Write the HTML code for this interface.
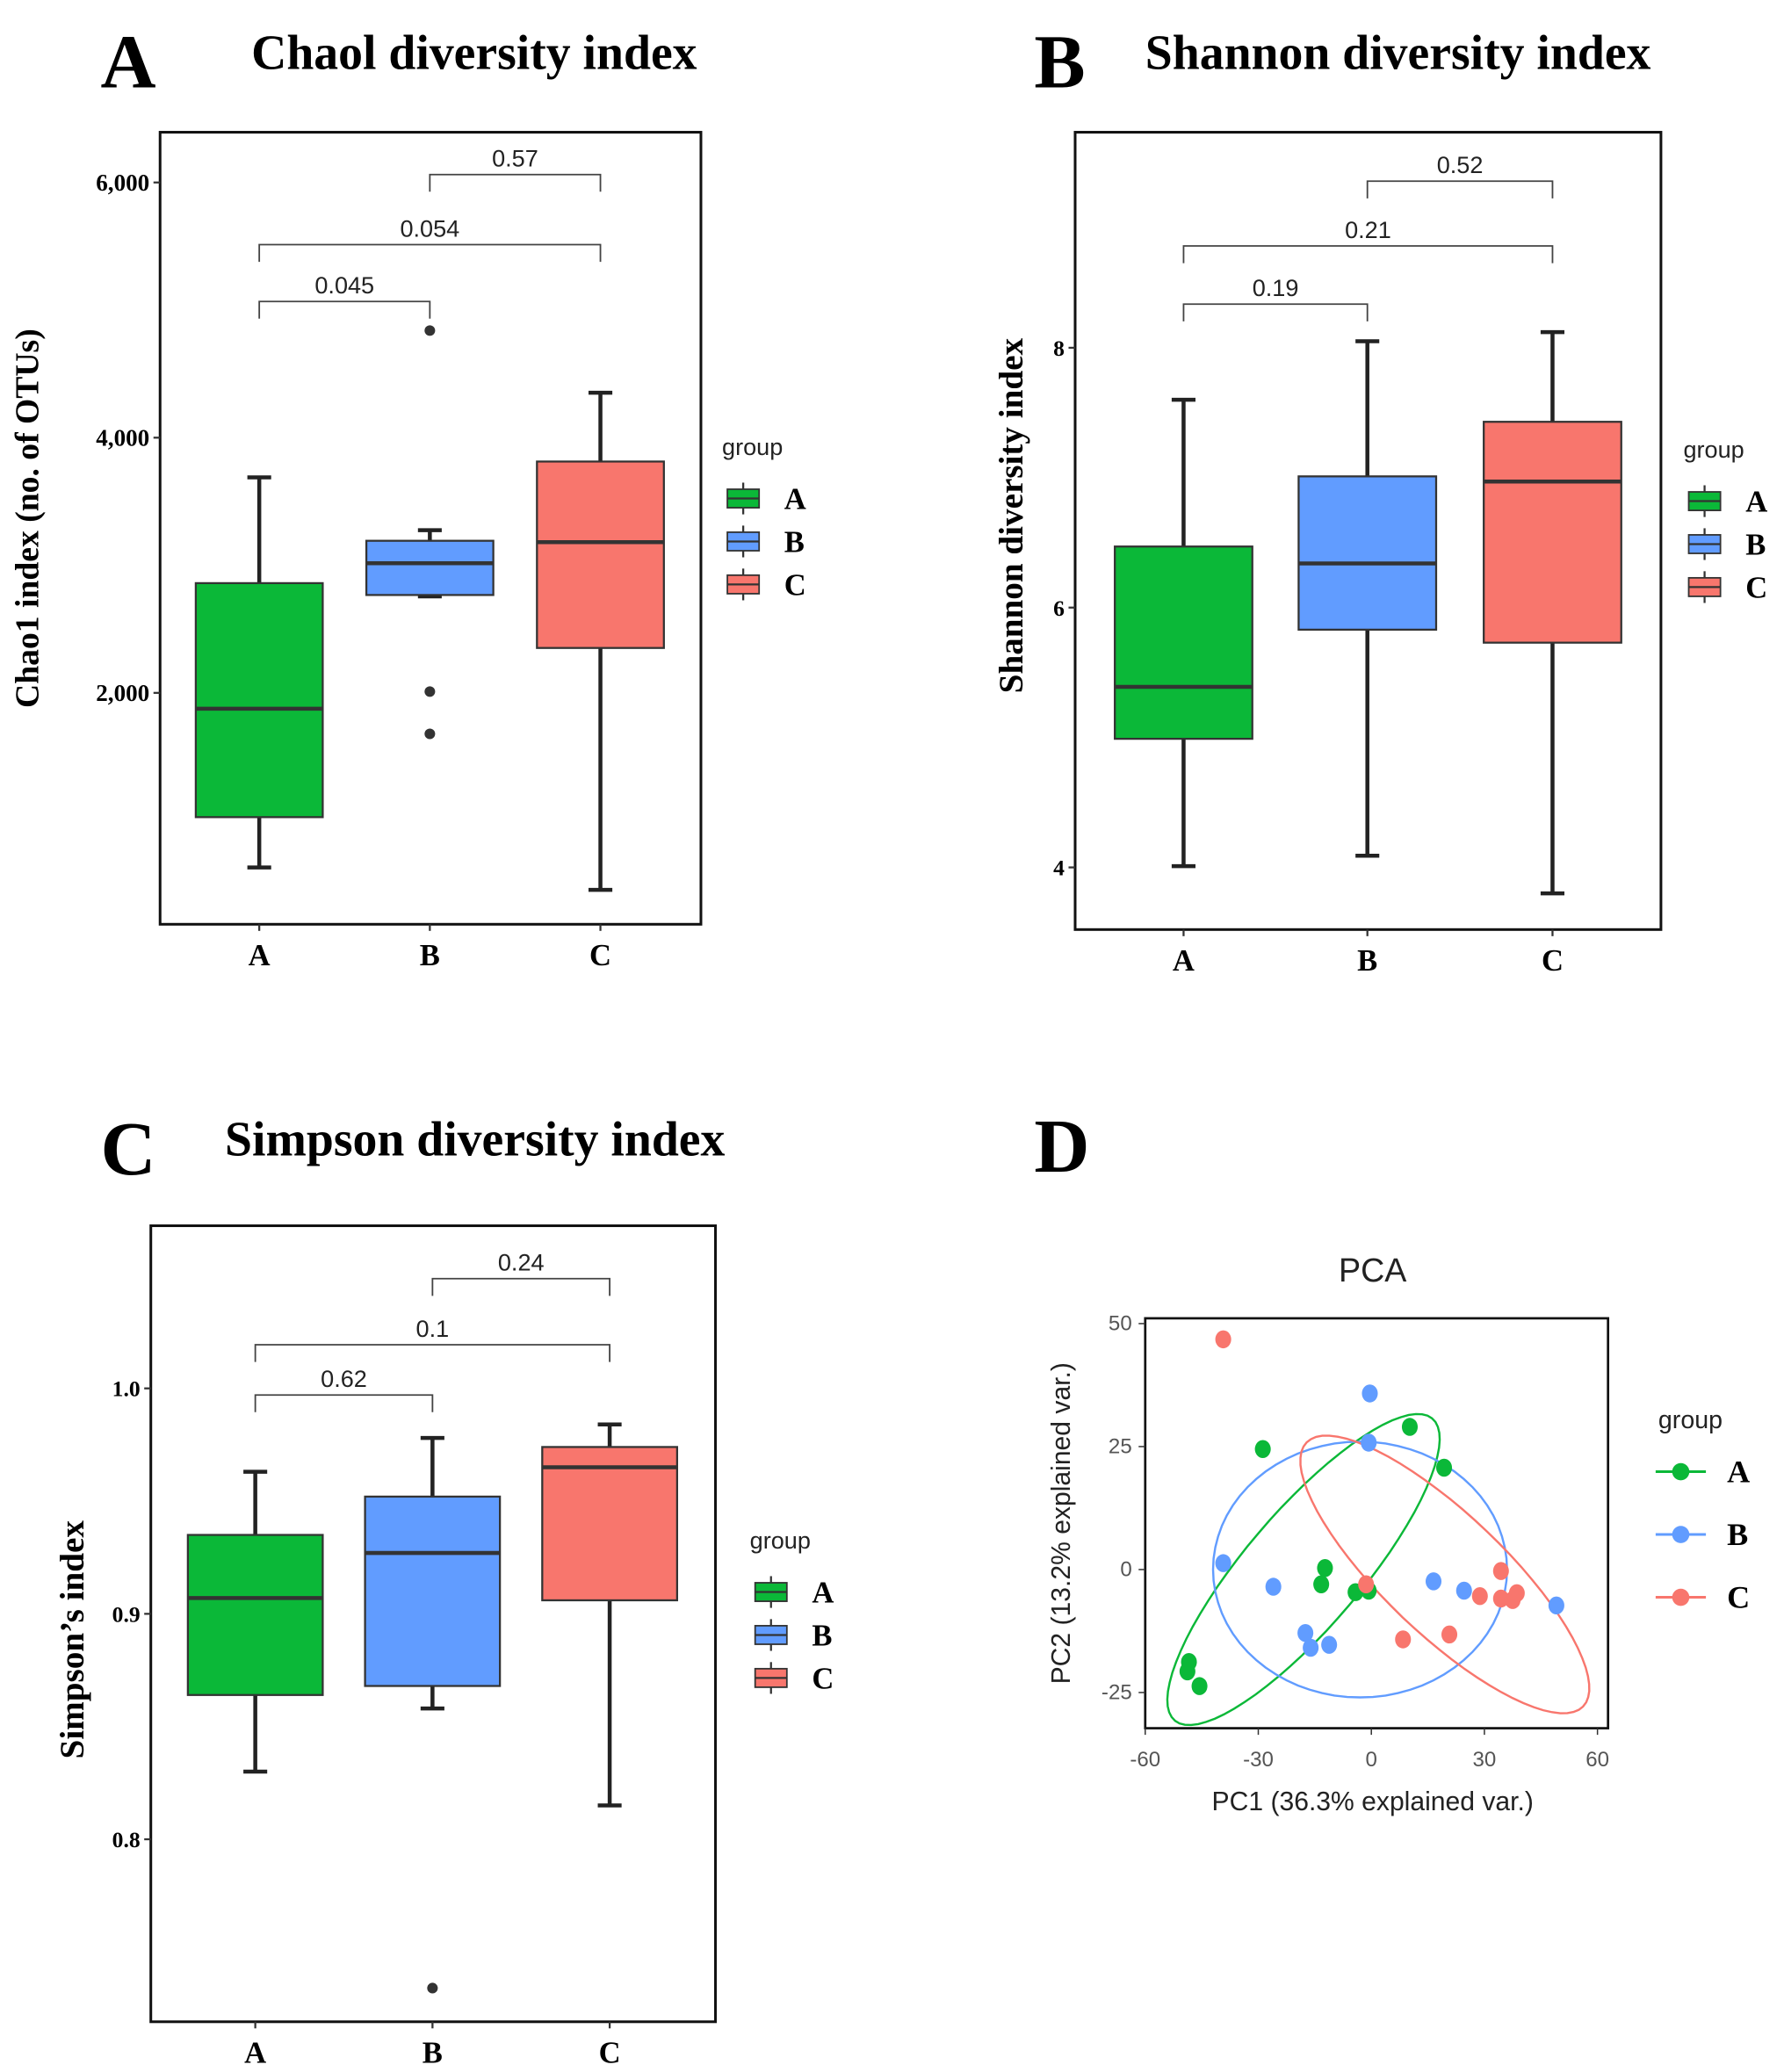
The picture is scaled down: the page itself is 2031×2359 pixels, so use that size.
<!DOCTYPE html>
<html><head><meta charset="utf-8">
<style>
html,body{margin:0;padding:0;background:#fff;}
svg{display:block;}
.ser{font-family:"Liberation Serif",serif;font-weight:bold;fill:#000;}
.sans{font-family:"Liberation Sans",sans-serif;}
</style></head>
<body>
<svg id="fig" width="2031" height="2359" viewBox="0 0 1349 1567" xmlns="http://www.w3.org/2000/svg"></svg>
<script>
// ---------- DATA ----------
const groups = ["A","B","C"];
const colors = ["#0BB838","#619CFF","#F8766D"];
// Panel A: Chao1 [low, q1, median, q3, high]
const chaoA = [632,1026,1876,2860,3689];
const chaoB = [2756,2767,3016,3192,3275];
const chaoC = [456,2352,3181,3813,4352];
const chaoOutliersB = [4839,2010,1679];
const chaoTicks = [2000,4000,6000];
const chaoTickLabels = ["2,000","4,000","6,000"];
const chaoP = ["0.045","0.054","0.57"];
// Panel B: Shannon
const shanA = [4.01,4.99,5.39,6.47,7.60];
const shanB = [4.09,5.83,6.34,7.01,8.05];
const shanC = [3.80,5.73,6.97,7.43,8.12];
const shanTicks = [4,6,8];
const shanTickLabels = ["4","6","8"];
const shanP = ["0.19","0.21","0.52"];
// Panel C: Simpson
const simpA = [0.830,0.864,0.907,0.935,0.963];
const simpB = [0.858,0.868,0.927,0.952,0.978];
const simpC = [0.815,0.906,0.965,0.974,0.984];
const simpOutliersB = [0.734];
const simpTicks = [0.8,0.9,1.0];
const simpTickLabels = ["0.8","0.9","1.0"];
const simpP = ["0.62","0.1","0.24"];
// Panel D: PCA
const pcaAx = [-28.8,10.2,19.3,-12.3,-13.3,-4.2,-0.7,-48.4,-48.8,-45.6];
const pcaAy = [24.5,29.0,20.7,0.3,-3.0,-4.6,-4.3,-18.8,-20.7,-23.7];
const pcaBx = [-0.4,-0.7,-39.3,-26.0,-17.5,-16.1,-11.2,16.5,24.6,49.1];
const pcaBy = [35.8,25.8,1.3,-3.5,-12.9,-15.9,-15.3,-2.4,-4.3,-7.3];
const pcaCx = [-39.3,-1.4,8.4,20.7,34.4,28.8,34.4,37.5,38.6];
const pcaCy = [46.8,-3.0,-14.2,-13.2,-0.3,-5.4,-5.9,-6.2,-4.8];
const pcaTicksX = [-60,-30,0,30,60];
const pcaTicksY = [-25,0,25,50];

// ---------- helpers ----------
const NS="http://www.w3.org/2000/svg";
const svg=document.getElementById('fig');
function el(tag,attrs,parent,text){const e=document.createElementNS(NS,tag);for(const k in attrs)e.setAttribute(k,attrs[k]);if(text!==undefined)e.textContent=text;(parent||svg).appendChild(e);return e;}
function lin(d0,d1,r0,r1){return v=>r0+(v-d0)*(r1-r0)/(d1-d0);}

function boxPanel(cfg){
  const g=el('g',{});
  
  
  const y=lin(cfg.d0,cfg.d1,cfg.r0,cfg.r1);
  const xs=[cfg.cx[0],cfg.cx[1],cfg.cx[2]];
  const L=el('text',{x:cfg.letterX,y:cfg.titleY+14,class:'ser','font-size':58},g,cfg.letter);
  
  const T=el('text',{x:cfg.titleX,y:cfg.titleY,class:'ser','font-size':37},g,cfg.title);
  
  const F=el('rect',{x:cfg.fx0,y:cfg.fy0,width:cfg.fx1-cfg.fx0,height:cfg.fy1-cfg.fy0,fill:'#fff',stroke:'#111','stroke-width':2},g);
  
  cfg.ticks.forEach((t,i)=>{
    const yy=y(t);
    el('line',{x1:cfg.fx0-5,x2:cfg.fx0,y1:yy,y2:yy,stroke:'#333','stroke-width':1.5},g);
    const tl=el('text',{x:cfg.fx0-8,y:yy+6,class:'ser','font-size':cfg.tickSize,'text-anchor':'end',fill:'#333'},g,cfg.tickLabels[i]);
    
  });
  const yl=el('text',{x:0,y:0,class:'ser','font-size':cfg.ylSize,'text-anchor':'middle',transform:`translate(${cfg.ylX},${cfg.ylY}) rotate(-90)`},g,cfg.ylabel);
  
  cfg.data.forEach((d,i)=>{
    const x=xs[i],hw=cfg.bw/2;
    const bg=el('g',{},g);
    
    
    el('line',{x1:x,x2:x,y1:y(d[0]),y2:y(d[1]),stroke:'#222','stroke-width':3},bg);
    el('line',{x1:x,x2:x,y1:y(d[3]),y2:y(d[4]),stroke:'#222','stroke-width':3},bg);
    el('line',{x1:x-9,x2:x+9,y1:y(d[0]),y2:y(d[0]),stroke:'#222','stroke-width':3},bg);
    el('line',{x1:x-9,x2:x+9,y1:y(d[4]),y2:y(d[4]),stroke:'#222','stroke-width':3},bg);
    el('rect',{x:x-hw,y:y(d[3]),width:cfg.bw,height:y(d[1])-y(d[3]),fill:colors[i],stroke:'#333','stroke-width':1.5},bg);
    el('line',{x1:x-hw,x2:x+hw,y1:y(d[2]),y2:y(d[2]),stroke:'#333','stroke-width':3},bg);
    el('line',{x1:x,x2:x,y1:cfg.fy1,y2:cfg.fy1+5,stroke:'#333','stroke-width':1.5},g);
    const xl=el('text',{x:x,y:cfg.fy1+31,class:'ser','font-size':23,'text-anchor':'middle'},g,groups[i]);
    
  });
  (cfg.outliers||[]).forEach(v=>{
    const o=el('circle',{cx:xs[1],cy:y(v),r:4,fill:'#333'},g);
    
  });
  const pairs=[[0,1],[0,2],[1,2]];
  pairs.forEach((p,i)=>{
    const by=cfg.brY[i];
    const b=el('path',{d:`M${xs[p[0]]},${by+13}V${by}H${xs[p[1]]}V${by+13}`,fill:'none',stroke:'#444','stroke-width':1.2},g);
    
    const pt=el('text',{x:(xs[p[0]]+xs[p[1]])/2,y:by-6,class:'sans','font-size':18,'text-anchor':'middle',fill:'#222'},g,cfg.pvals[i]);
    
  });
  const lg=el('g',{},g);
  
  el('text',{x:cfg.lgX-4,y:cfg.lgY,class:'sans','font-size':18,fill:'#222'},lg,'group');
  groups.forEach((gname,i)=>{
    const ky=cfg.lgY+33+i*32.5;
    const kk=el('g',{},lg);
    
    el('line',{x1:cfg.lgX+12,x2:cfg.lgX+12,y1:ky-12,y2:ky+12,stroke:'#333','stroke-width':1.5},kk);
    el('rect',{x:cfg.lgX,y:ky-7,width:24,height:14,fill:colors[i],stroke:'#333','stroke-width':1.2},kk);
    el('line',{x1:cfg.lgX,x2:cfg.lgX+24,y1:ky,y2:ky,stroke:'#333','stroke-width':1.5},kk);
    el('text',{x:cfg.lgX+43,y:ky+8,class:'ser','font-size':23},kk,gname);
  });
}

boxPanel({name:'chao1-panel',letter:'A',letterX:76,title:'Chaol diversity index',titleX:190,titleY:52,
  fx0:121,fx1:530,fy0:100,fy1:699,d0:2000,d1:6000,r0:524,r1:138,cx:[196,325,454],bw:96,
  ticks:chaoTicks,tickLabels:chaoTickLabels,tickSize:18,ylabel:'Chao1 index (no. of OTUs)',ylX:29,ylY:392,ylSize:25,
  data:[chaoA,chaoB,chaoC],outliers:chaoOutliersB,brY:[228,185,132],pvals:chaoP,lgX:550,lgY:344});

boxPanel({name:'shannon-panel',letter:'B',letterX:782,title:'Shannon diversity index',titleX:866,titleY:52,
  fx0:813,fx1:1256,fy0:100,fy1:703,d0:4,d1:8,r0:656,r1:263,cx:[895,1034,1174],bw:104,
  ticks:shanTicks,tickLabels:shanTickLabels,tickSize:17,ylabel:'Shannon diversity index',ylX:773,ylY:390,ylSize:26,
  data:[shanA,shanB,shanC],outliers:[],brY:[230,186,137],pvals:shanP,lgX:1277,lgY:346});

boxPanel({name:'simpson-panel',letter:'C',letterX:76,title:'Simpson diversity index',titleX:170,titleY:874,
  fx0:114,fx1:541,fy0:927,fy1:1529,d0:0.8,d1:1.0,r0:1391,r1:1050,cx:[193,327,461],bw:102,
  ticks:simpTicks,tickLabels:simpTickLabels,tickSize:17,ylabel:'Simpson\u2019s index',ylX:63,ylY:1240,ylSize:26,
  data:[simpA,simpB,simpC],outliers:simpOutliersB,brY:[1055,1017,967],pvals:simpP,lgX:571,lgY:1171});

// ---------- PCA ----------
(function(){
  const g=el('g',{});
  
  const x=lin(-60,60,866,1208), y=lin(-25,50,1280,1001);
  const L=el('text',{x:782,y:886,class:'ser','font-size':58},g,'D');
  
  const T=el('text',{x:1038,y:969,class:'sans','font-size':25,'text-anchor':'middle',fill:'#222'},g,'PCA');
  
  const F=el('rect',{x:866,y:997,width:350,height:310,fill:'#fff',stroke:'#111','stroke-width':1.8},g);
  
  pcaTicksX.forEach(t=>{
    el('line',{x1:x(t),x2:x(t),y1:1307,y2:1312,stroke:'#333'},g);
    const tl=el('text',{x:x(t),y:1336,class:'sans','font-size':16,'text-anchor':'middle',fill:'#555'},g,String(t));
    
  });
  pcaTicksY.forEach(t=>{
    el('line',{x1:861,x2:866,y1:y(t),y2:y(t),stroke:'#333'},g);
    const tl=el('text',{x:856,y:y(t)+5,class:'sans','font-size':16,'text-anchor':'end',fill:'#555'},g,String(t));
    
  });
  const xt=el('text',{x:1038,y:1369,class:'sans','font-size':20,'text-anchor':'middle',fill:'#222'},g,'PC1 (36.3% explained var.)');
  
  const yt=el('text',{x:0,y:0,class:'sans','font-size':20,'text-anchor':'middle',fill:'#222',transform:'translate(809,1152) rotate(-90)'},g,'PC2 (13.2% explained var.)');
  
  const ells=[[-18,0,35,30,-9,10],[-3,0,39,0,0,26],[19.5,-1,37.5,-26,8,11]];
  ells.forEach((e,i)=>{
    let d='';
    for(let k=0;k<=72;k++){const t=k/72*2*Math.PI;const px=e[0]+e[2]*Math.cos(t)+e[4]*Math.sin(t);const py=e[1]+e[3]*Math.cos(t)+e[5]*Math.sin(t);d+=(k?'L':'M')+x(px).toFixed(1)+','+y(py).toFixed(1);}
    const p=el('path',{d:d+'Z',fill:'none',stroke:colors[i],'stroke-width':1.6},g);
    
  });
  [[pcaAx,pcaAy],[pcaBx,pcaBy],[pcaCx,pcaCy]].forEach((s,i)=>{
    s[0].forEach((v,j)=>{
      const c=el('ellipse',{cx:x(v),cy:y(s[1][j]),rx:6,ry:6.8,fill:colors[i]},g);
      
    });
  });
  const lg=el('g',{},g);
  
  el('text',{x:1254,y:1080,class:'sans','font-size':19,fill:'#222'},lg,'group');
  groups.forEach((gname,i)=>{
    const ky=1113+i*47.5;
    const kk=el('g',{},lg);
    
    el('line',{x1:1252,x2:1290,y1:ky,y2:ky,stroke:colors[i],'stroke-width':2},kk);
    el('circle',{cx:1271,cy:ky,r:6.5,fill:colors[i]},kk);
    el('text',{x:1306,y:ky+8,class:'ser','font-size':24},kk,gname);
  });
})();
</script>
</body></html>
